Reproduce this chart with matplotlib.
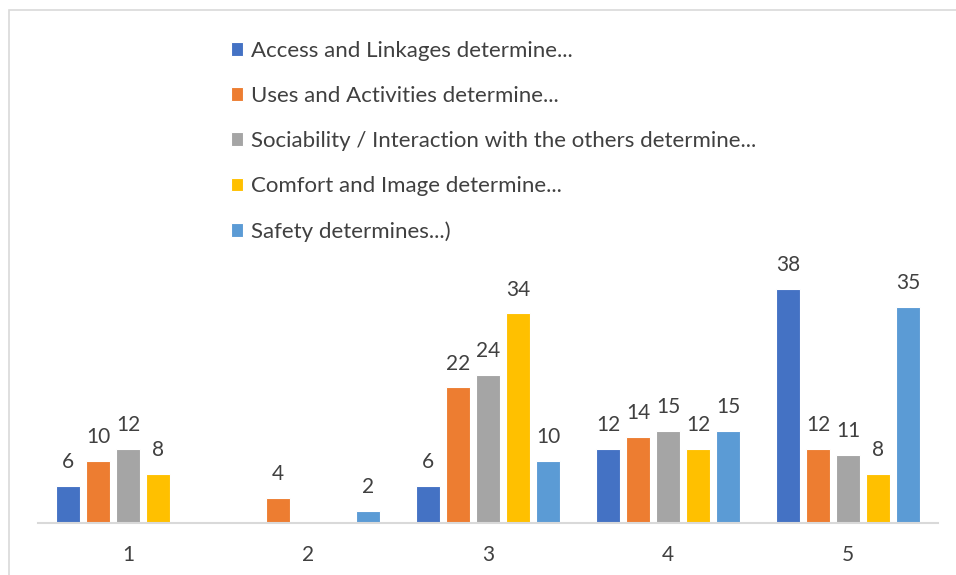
import matplotlib
matplotlib.use("Agg")
import matplotlib.pyplot as plt
from matplotlib.patches import Rectangle
import numpy as np

categories = ["1", "2", "3", "4", "5"]
series_names = [
    "Access and Linkages determine...",
    "Uses and Activities determine...",
    "Sociability / Interaction with the others determine...",
    "Comfort and Image determine...",
    "Safety determines...)",
]
access = [6, 0, 6, 12, 38]
uses = [10, 4, 22, 14, 12]
sociability = [12, 0, 24, 15, 11]
comfort = [8, 0, 34, 12, 8]
safety = [0, 2, 10, 15, 35]
series_values = [access, uses, sociability, comfort, safety]
colors = ["#4472C4", "#ED7D31", "#A5A5A5", "#FFC000", "#5B9BD5"]

plt.rcParams['font.family'] = ['Lato', 'DejaVu Sans']
text_color = "#404040"

W, H = 956, 575
fig = plt.figure(figsize=(W / 100, H / 100), dpi=100)
ax = fig.add_axes([38 / W, (H - 523) / H, 900 / W, 493 / H])

x = np.arange(len(categories))
slot = 1 / 6
width = 24 / 180
for i, (name, vals, col) in enumerate(zip(series_names, series_values, colors)):
    pos = x + (i - 2) * slot
    bars = ax.bar(pos, vals, width=width, color=col, edgecolor="white",
                  linewidth=0.8, label=name, zorder=2)
    for b, v in zip(bars, vals):
        if v > 0:
            ax.annotate(str(v), (b.get_x() + b.get_width() / 2, v),
                        xytext=(0, 10), textcoords="offset points",
                        ha="center", va="bottom", fontsize=15, color=text_color)

ax.set_xlim(-0.5, 4.5)
ax.set_ylim(0, 80)
ax.set_xticks(x)
ax.set_xticklabels(categories, fontsize=15, color=text_color)
ax.tick_params(axis="x", length=0, pad=16)
ax.set_yticks([])
for s in ["top", "right", "left"]:
    ax.spines[s].set_visible(False)
ax.spines["bottom"].set_color("#D9D9D9")
ax.spines["bottom"].set_linewidth(1.5)

leg = fig.legend(loc="upper left", bbox_to_anchor=(222 / W, 1 - 32 / H),
                 frameon=False, fontsize=16, handlelength=0.56, handleheight=0.56,
                 handletextpad=0.33, labelspacing=1.13, borderaxespad=0)
for t in leg.get_texts():
    t.set_color(text_color)

fig.patches.append(Rectangle((9 / W, -0.05), 1.1, 1.05 - 10 / H,
                             transform=fig.transFigure, fill=False,
                             edgecolor="#D9D9D9", linewidth=1.2))

fig.savefig("out.png", dpi=100)
